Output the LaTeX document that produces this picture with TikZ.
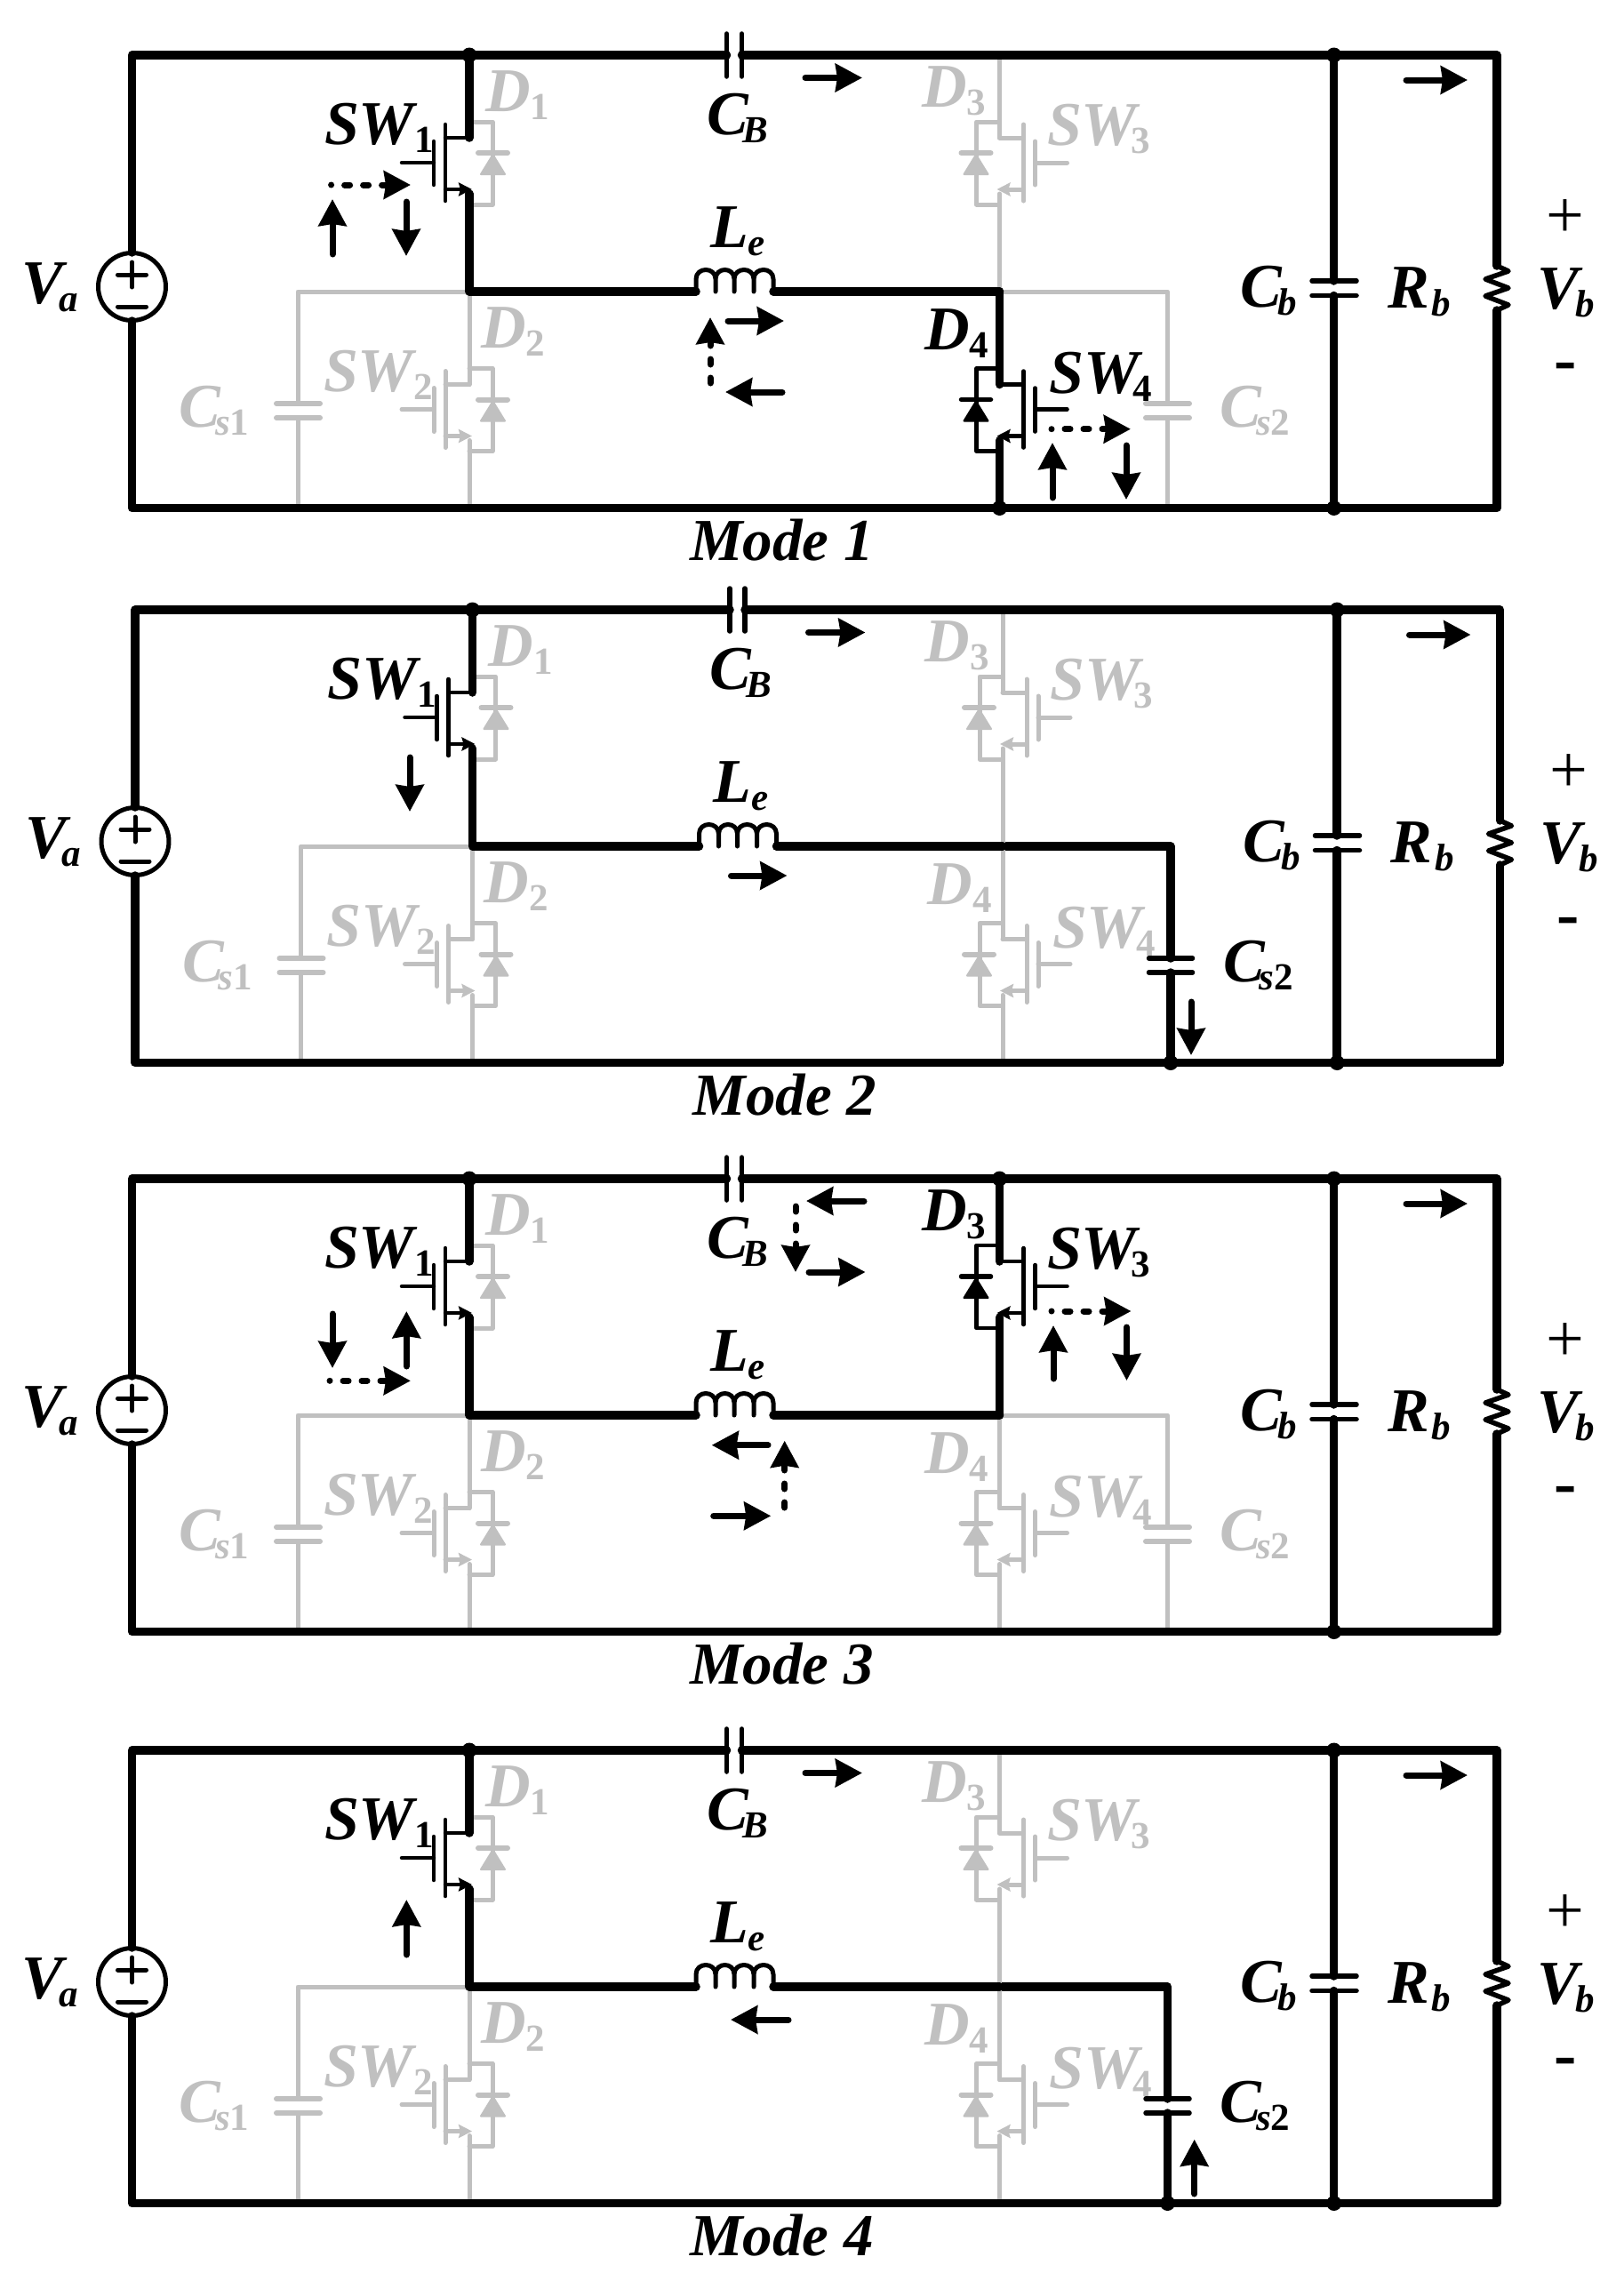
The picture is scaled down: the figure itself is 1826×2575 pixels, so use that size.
\documentclass[tikz,border=0pt]{standalone}
\usepackage{fontspec}
\setmainfont{Liberation Serif}
\usetikzlibrary{arrows.meta}
\definecolor{cblk}{HTML}{000000}
\definecolor{cgry}{HTML}{C0C0C0}
\tikzset{
  wireblk/.style={draw=cblk,line width=9.5pt,line cap=round,line join=round},
  wiregry/.style={draw=cgry,line width=5pt,line cap=round,line join=round},
  devblk/.style={draw=cblk,line width=4.5pt,line cap=round,line join=round},
  devgry/.style={draw=cgry,line width=5pt,line cap=round,line join=round},
  plateblk/.style={draw=cblk,line width=5.5pt,line cap=round},
  plategry/.style={draw=cgry,line width=6pt,line cap=round},
  srcline/.style={draw=cblk,line width=5pt,line cap=round,line join=round},
  lbl/.style={inner sep=0pt,outer sep=0pt,anchor=base west},
  cur/.style={draw=cblk,line width=7pt,line cap=round,-{Stealth[length=30pt,width=31pt,inset=2pt]}},
  dcur/.style={cur,dash pattern=on 0pt off 15pt on 6pt off 15pt on 6pt off 15pt on 60pt},
  dcurb/.style={cur,dash pattern=on 6pt off 15pt on 6pt off 15pt on 60pt},
  srcarrow/.style={-{Stealth[length=15pt,width=15pt,inset=2pt]}},
}
\newcommand\bigf{\fontsize{70}{70}\selectfont\bfseries\itshape}
\newcommand\subf{\fontsize{43}{43}\selectfont\bfseries\itshape}
% name, x, y, colour, main, sub, kern
\newcommand\lab[7]{\node[lbl,text=c#4] (#1) at (#2,#3) {\bigf #5\kern#7pt\raisebox{-9pt}{\subf #6}};}
% device only: leg x, dy, dir, colour
\newcommand\swt[4]{\begin{scope}[shift={(#1,#2)},xscale=#3]
  \draw[dev#4] (-27,155) -- (0,155);
  \draw[dev#4] (-27,140) -- (-27,226);
  \draw[dev#4] (-40,159) -- (-40,208);
  \draw[dev#4] (-76,183) -- (-40,183);
  \draw[dev#4,srcarrow] (-27,213) -- (3,213);
\end{scope}}
\newcommand\dio[4]{\begin{scope}[shift={(#1,#2)},xscale=#3]
  \draw[dev#4] (0,137) -- (26,137) -- (26,230) -- (0,230);
  \draw[plate#4] (10,172) -- (43,172);
  \fill[c#4,draw=c#4,line width=2pt,line join=round] (26.5,174) -- (13,196) -- (40,196) -- cycle;
\end{scope}}
% id, dx, dy, colour SW3/D3, colour SW4/D4, colour Cs2, extras
\newcommand\panelx[7]{\begin{scope}[shift={(#2,#3)}]
  % grey branch of Cs1 and grey devices
  \draw[wiregry] (528,328) -- (335,328) -- (335,454);
  \draw[wiregry] (335,470) -- (335,571.5);
  \draw[plategry] (311,454) -- (360,454);
  \draw[plategry] (311,470) -- (360,470);
  \dio{528}{0}{1}{gry}
  \dio{528}{277.5}{1}{gry}
  \swt{528}{277.5}{1}{gry}
  \draw[wiregry] (528,328) -- (528,432.5);
  \draw[wiregry] (528,495.5) -- (528,571.5);
  % Cs2 branch
  \draw[wire#6] (1124.5,328) -- (1313.5,328) -- (1313.5,454);
  \draw[wire#6] (1313.5,470) -- (1313.5,571.5);
  \draw[plate#6] (1289,454) -- (1338,454);
  \draw[plate#6] (1289,470) -- (1338,470);
  % right leg
  \dio{1124.5}{0}{-1}{#4}
  \swt{1124.5}{0}{-1}{#4}
  \draw[wire#4] (1124.5,62) -- (1124.5,155);
  \draw[wire#4] (1124.5,218) -- (1124.5,328);
  \dio{1124.5}{277.5}{-1}{#5}
  \swt{1124.5}{277.5}{-1}{#5}
  \draw[wire#5] (1124.5,328) -- (1124.5,432.5);
  \draw[wire#5] (1124.5,495.5) -- (1124.5,571.5);
  % SW1
  \swt{528}{0}{1}{blk}
  \draw[wireblk] (528,62) -- (528,155);
  \draw[wireblk] (528,218) -- (528,328) -- (783,328);
  % inductor
  \draw[devblk,line width=5pt] (783,328) -- (783,314) .. controls (783,300) and (805,300) .. (805,314) -- (805,328)
     (805,328) -- (805,314) .. controls (805,300) and (826,300) .. (826,314) -- (826,328)
     (826,328) -- (826,314) .. controls (826,300) and (848,300) .. (848,314) -- (848,328)
     (848,328) -- (848,314) .. controls (848,300) and (870,300) .. (870,314) -- (870,328);
  \draw[wireblk] (870,328) -- (1124.5,328);
  % outer loop
  \draw[wireblk] (148.5,284) -- (148.5,62) -- (817.5,62);
  \draw[wireblk] (834.5,62) -- (1684,62) -- (1684,299);
  \draw[devblk,line width=5.5pt] (1684,299) -- (1697,305) -- (1671,314) -- (1697,324) -- (1671,333) -- (1697,343) -- (1684,349);
  \draw[wireblk] (1684,349) -- (1684,571.5) -- (148.5,571.5) -- (148.5,361);
  % source
  \draw[srcline] (148.5,322.5) circle[radius=38pt];
  \draw[srcline] (132.5,309) -- (164.5,309) (148.5,295) -- (148.5,323);
  \draw[srcline] (132.5,345) -- (164.5,345);
  % CB
  \draw[plateblk] (817.5,38) -- (817.5,86);
  \draw[plateblk] (834.5,38) -- (834.5,86);
  % Cb
  \draw[wireblk] (1500.7,62) -- (1500.7,316);
  \draw[wireblk] (1500.7,332.5) -- (1500.7,571.5);
  \draw[plateblk] (1476,316) -- (1526,316);
  \draw[plateblk] (1476,332.5) -- (1526,332.5);
  % dots
  \fill[cblk] (528,62) circle[radius=8.5pt] (1500.7,62) circle[radius=8.5pt] (1500.7,571.5) circle[radius=8.5pt];
  % labels
  \lab{#1-Va}{24.5}{341}{blk}{V}{a}{-5}
  \lab{#1-SW1}{365}{162}{blk}{SW}{\upshape 1}{0}
  \lab{#1-D1}{546}{125}{gry}{D}{\upshape 1}{0}
  \lab{#1-CB}{795}{151.5}{blk}{C}{B}{-6}
  \lab{#1-Le}{799}{278}{blk}{L}{e}{0}
  \lab{#1-D2}{541}{391}{gry}{D}{\upshape 2}{0}
  \lab{#1-SW2}{364}{440}{gry}{SW}{\upshape 2}{0}
  \lab{#1-Cs1}{201.5}{480}{gry}{C}{s\upshape 1}{-6}
  \lab{#1-D3}{1037}{120}{#4}{D}{\upshape 3}{0}
  \lab{#1-SW3}{1178}{163}{#4}{SW}{\upshape 3}{-7}
  \lab{#1-D4}{1040}{393.5}{#5}{D}{\upshape 4}{0}
  \lab{#1-SW4}{1180.5}{442}{#5}{SW}{\upshape 4}{-7}
  \lab{#1-Cs2}{1372.5}{480}{#6}{C}{s\upshape 2}{-6}
  \lab{#1-Cb}{1395}{345}{blk}{C}{b}{-4}
  \lab{#1-Rb}{1561}{346}{blk}{R}{b}{3}
  \lab{#1-Vb}{1729}{347}{blk}{V}{b}{-3}
  \node[inner sep=0pt,text=cblk] (#1-plus) at (1761,246) {\fontsize{76}{76}\selectfont +};
  \node[inner sep=0pt,text=cblk] (#1-minus) at (1761,419) {\fontsize{76}{76}\selectfont\bfseries -};
  \node[lbl,text=cblk] (#1-mode) at (776,630) {\fontsize{67}{67}\selectfont\bfseries\itshape Mode #1};
  #7
\end{scope}}
\begin{document}
\begin{tikzpicture}[x=1pt,y=-1pt]
\useasboundingbox (0,0) rectangle (1826,2575);
\fill[white] (0,0) rectangle (1826,2575);
% Mode 1
\panelx{1}{0}{0}{gry}{blk}{gry}{
  \fill[cblk] (1124.5,571.5) circle[radius=8.5pt];
  \draw[cur] (906,87.5) -- (970,87.5);
  \draw[cur] (1582,90) -- (1651,90);
  \draw[dcur] (372.6,208) -- (462,208);
  \draw[cur] (374,286) -- (374,224);
  \draw[cur] (457,227) -- (457,288);
  \draw[cur] (819,361) -- (882,361);
  \draw[cur] (880,441) -- (816,441);
  \draw[dcurb] (799,431) -- (799,357);
  \draw[dcur] (1183,482.7) -- (1272,482.7);
  \draw[cur] (1184,560) -- (1184,498);
  \draw[cur] (1267,501) -- (1267,562);
}
% Mode 2
\panelx{2}{3.5}{624}{gry}{gry}{blk}{
  \fill[cblk] (1313.5,571.5) circle[radius=8.5pt];
  \draw[cur] (906,87.5) -- (970,87.5);
  \draw[cur] (1582,90) -- (1651,90);
  \draw[cur] (457.5,228) -- (457.5,289);
  \draw[cur] (819,361) -- (882,361);
  \draw[cur] (1336.5,503) -- (1336.5,563);
}
% Mode 3
\panelx{3}{0}{1264}{blk}{gry}{gry}{
  \fill[cblk] (1124.5,62) circle[radius=8.5pt];
  \draw[cur] (972,87) -- (907,87);
  \draw[dcurb] (895,93) -- (895,167);
  \draw[cur] (910,167) -- (973.6,167);
  \draw[cur] (1582,90) -- (1651,90);
  \draw[cur] (374,214) -- (374,275);
  \draw[dcur] (371,289.3) -- (462,289.3);
  \draw[cur] (457.3,273) -- (457.3,211);
  \draw[dcur] (1183,211) -- (1272.5,211);
  \draw[cur] (1185,287) -- (1185,227);
  \draw[cur] (1267.5,229) -- (1267.5,289);
  \draw[cur] (864,361.7) -- (800.7,361.7);
  \draw[dcurb] (882.7,432) -- (882.7,356.7);
  \draw[cur] (802.7,441.3) -- (867.3,441.3);
}
% Mode 4
\panelx{4}{0}{1907}{gry}{gry}{blk}{
  \fill[cblk] (1313.5,571.5) circle[radius=8.5pt];
  \draw[cur] (906,87.5) -- (970,87.5);
  \draw[cur] (1582,90) -- (1651,90);
  \draw[cur] (457.3,292) -- (457.3,230);
  \draw[cur] (887,365) -- (822,365);
  \draw[cur] (1343.7,561) -- (1343.7,499.7);
}
\end{tikzpicture}
\end{document}
